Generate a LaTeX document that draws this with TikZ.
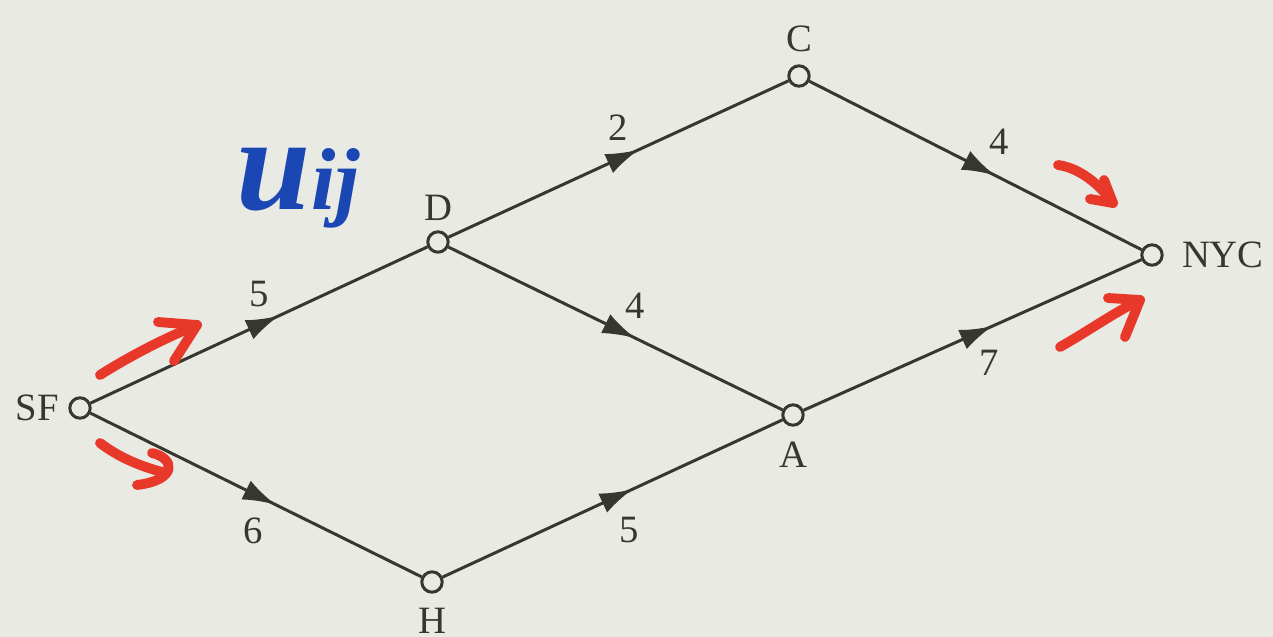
\documentclass[tikz,border=0pt]{standalone}
\usepackage{fontspec}
\setmainfont{Liberation Serif}
\usetikzlibrary{arrows.meta,decorations.markings}
\definecolor{paper}{HTML}{E9EAE3}
\definecolor{ink}{HTML}{35382F}
\definecolor{handred}{HTML}{E8382A}
\definecolor{handblue}{HTML}{1B47B5}

\begin{document}
\begin{tikzpicture}[x=0.01cm, y=-0.01cm,
  vtx/.style={circle, draw=ink, fill=paper, line width=0.85pt, minimum size=5.8pt, inner sep=0pt},
  lab/.style={font=\fontsize{11}{13}\selectfont, text=ink, inner sep=1pt},
  wlab/.style={font=\fontsize{11}{13}\selectfont, text=ink, inner sep=1pt},
  flow/.style={color=ink, line width=0.85pt, postaction={decorate},
    decoration={markings, mark=at position #1 with {\arrow{Latex[length=3.3mm,width=2.1mm]}}}},
  flow/.default=0.56,
  hand/.style={draw=handred, line width=2.8pt, line cap=round, line join=round}]
\fill[paper] (0,0) rectangle (1273,637);
\useasboundingbox (0,0) rectangle (1273,637);
\node[vtx, label={[lab, label distance=1.5pt]left:SF}] (sf) at (80,408) {};
\node[vtx, label={[lab, label distance=1.5pt]above:D}] (d) at (438,242) {};
\node[vtx, label={[lab, label distance=2.4pt]above:C}] (c) at (799,76) {};
\node[vtx, label={[lab, label distance=4pt]right:NYC}] (nyc) at (1152,255) {};
\node[vtx, label={[lab, label distance=3.2pt]below:A}] (a) at (793,415) {};
\node[vtx, label={[lab, label distance=3pt]below:H}] (h) at (432,582) {};
\draw[flow] (sf) -- node[wlab, above=3.7pt, pos=0.5]{5} (d);
\draw[flow] (sf) -- node[wlab, below=5.5pt, pos=0.49]{6} (h);
\draw[flow] (d) -- node[wlab, above=3.7pt, pos=0.5]{2} (c);
\draw[flow] (d) -- node[wlab, above=4.2pt, pos=0.56]{4} (a);
\draw[flow] (c) -- node[wlab, above=5pt, pos=0.57]{4} (nyc);
\draw[flow] (a) -- node[wlab, below=5pt, pos=0.55]{7} (nyc);
\draw[flow] (h) -- node[wlab, below=6pt, pos=0.55]{5} (a);
\node[text=handblue, font=\bfseries\itshape, anchor=base west, inner sep=0pt] (uij) at (236,210)
  {\fontsize{38}{38}\selectfont u\fontsize{25}{25}\selectfont ij};
\draw[hand] (100,375) .. controls (130,356) and (165,338) .. (197,325);
\draw[hand] (158,322) -- (197,325) -- (174,361);
\draw[hand] (100,443) .. controls (120,458) and (140,466) .. (162,472);
\draw[hand] (152,453) .. controls (175,458) and (178,480) .. (137,485);
\draw[hand] (1058,165) .. controls (1080,168) and (1100,185) .. (1113,203);
\draw[hand] (1090,199) -- (1113,203) -- (1104,180);
\draw[hand] (1060,347) .. controls (1090,330) and (1115,312) .. (1140,300);
\draw[hand] (1108,298) -- (1140,300) -- (1125,337);
\end{tikzpicture}
\end{document}
